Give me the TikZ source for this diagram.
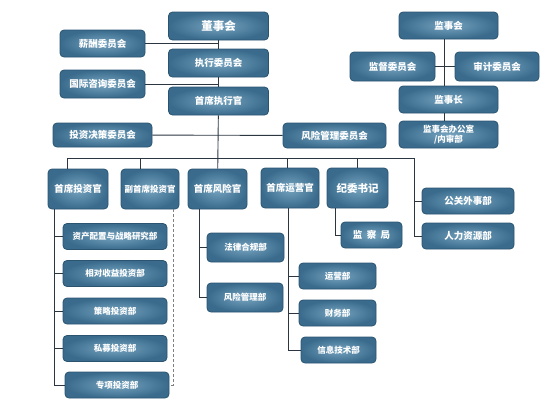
\documentclass[tikz,border=0pt]{standalone}
\usepackage{fontspec}
\newfontfamily\cjk{Noto Sans CJK SC}
\usepackage{tikz}
\usetikzlibrary{positioning}
\usetikzlibrary{calc}
\definecolor{boxlight}{HTML}{76A4C0}
\definecolor{boxdark}{HTML}{3A6B8C}
\definecolor{boxedge}{HTML}{2A5470}
\definecolor{linkcol}{HTML}{2B3640}
\tikzset{
	unit/.style={draw=boxedge, line width=0.8pt, rounded corners=4pt,
		inner color=boxlight, outer color=boxdark, text=white,
		font=\cjk\bfseries\fontsize{9.5}{11}\selectfont, align=center, inner sep=1pt},
	dept/.style={unit, font=\cjk\bfseries\fontsize{8.5}{10}\selectfont},
	link/.style={draw=linkcol, line width=0.9pt},
	dottedlink/.style={link, dashed, dash pattern=on 3pt off 2pt, draw=gray},
}

\begin{document}
\begin{tikzpicture}[x=1pt, y=-1pt]
	\useasboundingbox (0,0) rectangle (560,405);
	% board side
	\node[unit, minimum width=100, minimum height=28, font=\cjk\bfseries\fontsize{11.5}{13}\selectfont] (dongshi) at (218.5,26) {董事会};
	\node[unit, minimum width=85, minimum height=27] (xinchou) at (102.5,43.5) {薪酬委员会};
	\node[unit, minimum width=100, minimum height=28] (zhixing) at (218.5,63) {执行委员会};
	\node[unit, minimum width=85, minimum height=28] (guoji) at (102.5,84) {国际咨询委员会};
	\node[unit, minimum width=100, minimum height=28] (ceo) at (218.5,101) {首席执行官};
	% supervisory side
	\node[unit, minimum width=99, minimum height=27] (jianshi) at (448.5,25.5) {监事会};
	\node[unit, minimum width=85, minimum height=29] (jiandu) at (392.5,66.5) {监督委员会};
	\node[unit, minimum width=84, minimum height=29] (shenji) at (497,66.5) {审计委员会};
	\node[unit, minimum width=99, minimum height=27] (jianshizhang) at (448.5,99.5) {监事长};
	\node[unit, minimum width=99, minimum height=27, font=\cjk\bfseries\fontsize{8.5}{10}\selectfont] (bangong) at (448.5,134.5) {监事会办公室\\/内审部};
	% committees
	\node[unit, minimum width=99, minimum height=24] (touzi) at (102.5,135) {投资决策委员会};
	\node[unit, minimum width=103, minimum height=25] (fengxianwei) at (334.5,135.5) {风险管理委员会};
	% officers
	\node[unit, minimum width=60, minimum height=40] (cio) at (78,189) {首席投资官};
	\node[unit, minimum width=58, minimum height=40, font=\cjk\bfseries\fontsize{8.5}{10}\selectfont] (vcio) at (150,189) {副首席投资官};
	\node[unit, minimum width=59, minimum height=40] (cro) at (217.5,189) {首席风险官};
	\node[unit, minimum width=58, minimum height=40] (coo) at (290,188) {首席运营官};
	\node[unit, minimum width=61, minimum height=40, font=\cjk\bfseries\fontsize{10.5}{12}\selectfont] (jiwei) at (357.5,188) {纪委书记};
	\node[unit, minimum width=92, minimum height=26] (gongguan) at (468,201) {公关外事部};
	\node[unit, minimum width=92, minimum height=26] (renli) at (468,236) {人力资源部};
	\node[unit, minimum width=61, minimum height=26] (jiancha) at (371.5,235) {监\ \ 察\ \ 局};
	% departments
	\node[dept, minimum width=104, minimum height=26] (zichan) at (115,236.5) {资产配置与战略研究部};
	\node[dept, minimum width=104, minimum height=26] (xiangdui) at (115,273.5) {相对收益投资部};
	\node[dept, minimum width=104, minimum height=26] (celue) at (115,311) {策略投资部};
	\node[dept, minimum width=104, minimum height=26] (simu) at (115,348.5) {私募投资部};
	\node[dept, minimum width=104, minimum height=26] (zhuanxiang) at (117,385) {专项投资部};
	\node[dept, minimum width=77, minimum height=29] (falv) at (245.5,247.5) {法律合规部};
	\node[dept, minimum width=76, minimum height=29] (fengxianbu) at (245,297.5) {风险管理部};
	\node[dept, minimum width=77, minimum height=26] (yunying) at (337.5,276) {运营部};
	\node[dept, minimum width=77, minimum height=26] (caiwu) at (337.5,313) {财务部};
	\node[dept, minimum width=75, minimum height=26] (xinxi) at (338.5,350) {信息技术部};

	% connectors
	\coordinate (busR) at (414,158);
	\coordinate (jsx) at ($(jianshi.south)+(-4.5,0)$);
	\coordinate (cioL) at ($(cio.south)+(-24,0)$);
	\coordinate (vcioR) at ($(vcio.south)+(23,0)$);
	\coordinate (croL) at ($(cro.south)+(-18.5,0)$);
	\coordinate (cooL) at ($(coo.south)+(-2,0)$);
	\coordinate (jiweiL) at ($(jiwei.south)+(-22.5,0)$);
	\draw[link] (dongshi) -- (zhixing);
	\draw[link] (zhixing) -- (ceo);
	\draw[link] (xinchou.east) -- (xinchou.east -| dongshi.south);
	\draw[link] (guoji.east) -- (guoji.east -| zhixing.south);
	\draw[link] (ceo) -- (cro);
	\draw[link] (touzi) -- (fengxianwei);
	\draw[link] ([xshift=-11]cio.north) |- (busR) |- (renli.west);
	\draw[link] (gongguan.west) -- (gongguan.west -| busR);
	\draw[link] ([xshift=-10]vcio.north) -- ([xshift=-10]vcio.north |- busR);
	\draw[link] ([xshift=-3]coo.north) -- ([xshift=-3]coo.north |- busR);
	\draw[link] (jiwei.north) -- (jiwei.north |- busR);
	\draw[link] (jsx) -- (jsx |- jianshizhang.north);
	\draw[link] (jiandu) -- (shenji);
	\draw[link] (jsx |- jianshizhang.south) -- (jsx |- bangong.north);
	\draw[link] (cioL) |- (zhuanxiang.west);
	\foreach \d in {zichan,xiangdui,celue,simu}
		\draw[link] (\d.west) -- (\d.west -| cioL);
	\draw[dottedlink] (vcioR) |- (zhuanxiang.east);
	\draw[link] (croL) |- (fengxianbu.west);
	\draw[link] (falv.west) -- (falv.west -| croL);
	\draw[link] (cooL) |- (xinxi.west);
	\draw[link] (yunying.west) -- (yunying.west -| cooL);
	\draw[link] (caiwu.west) -- (caiwu.west -| cooL);
	\draw[link] (jiweiL) |- (jiancha.west);
\end{tikzpicture}
\end{document}
